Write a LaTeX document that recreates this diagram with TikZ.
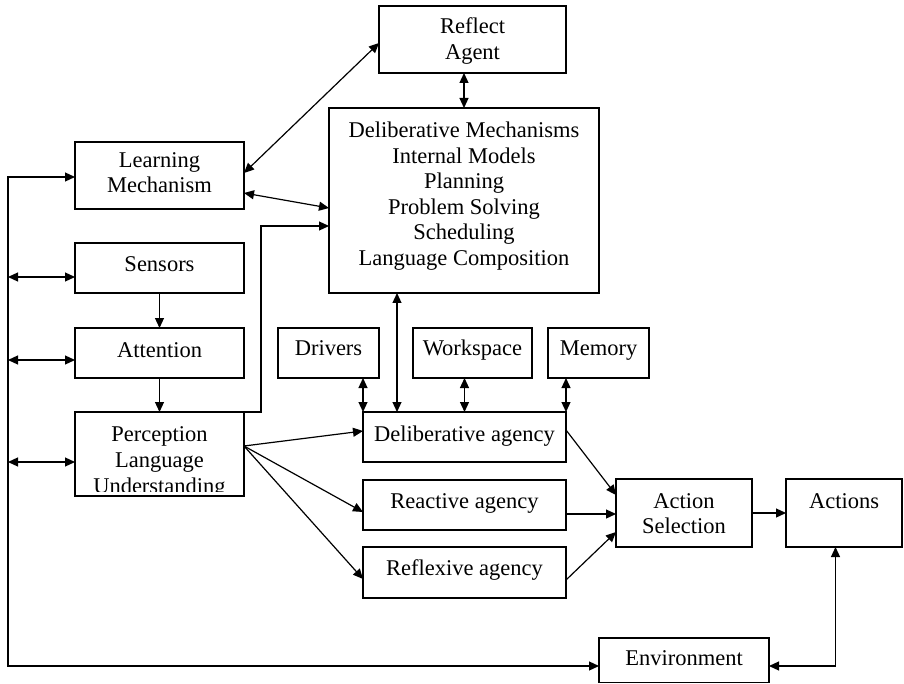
\documentclass[tikz,border=0pt]{standalone}
\usepackage{fontspec}
\setmainfont{Liberation Serif}
\usetikzlibrary{arrows.meta}
\newcommand\mybox[5]{\node[box, minimum width={(#4-#2)*1pt}, minimum height={(#5-#3)*1pt}] (#1) at ({(#2+#4)/2},{(#3+#5)/2}) {};}
\newcommand\txtline[4]{\node[lbl] (#1) at (#2,#3) {#4};}
\begin{document}
\begin{tikzpicture}[x=1pt,y=-1pt,
  box/.style={draw, line width=1.3pt, inner sep=0pt, outer sep=0pt},
  lbl/.style={anchor=base, inner sep=0pt, font=\fontsize{22.5}{26}\selectfont},
  tip/.tip={Triangle[length=10pt,width=9pt]},
  con/.style={line width=1.2pt, -tip},
  bicon/.style={line width=1.2pt, tip-tip}]
\useasboundingbox (0,0) rectangle (904,684);
% boxes
\mybox{reflect}{379}{6}{566}{73}
\mybox{delibmech}{329}{108}{599}{293}
\mybox{learn}{75}{142}{244}{209}
\mybox{sensors}{75}{243}{244}{293}
\mybox{attention}{75}{328}{244}{378}
\mybox{percep}{75}{412}{244}{496}
\mybox{drivers}{278}{328}{379}{378}
\mybox{workspace}{413}{328}{532}{378}
\mybox{memory}{548}{328}{649}{378}
\mybox{delagency}{363}{412}{566}{462}
\mybox{reactive}{363}{480}{566}{530}
\mybox{reflexive}{363}{547}{566}{598}
\mybox{actsel}{616}{479}{752}{547}
\mybox{actions}{786}{479}{902}{547}
\mybox{env}{599}{638}{769}{682.5}
% texts
\txtline{t1}{472.5}{34}{Reflect}
\txtline{t2}{472.5}{60}{Agent}
\txtline{t3}{464}{138}{Deliberative Mechanisms}
\txtline{t4}{464}{163.5}{Internal Models}
\txtline{t5}{464}{189}{Planning}
\txtline{t6}{464}{214.5}{Problem Solving}
\txtline{t7}{464}{240}{Scheduling}
\txtline{t8}{464}{265.5}{Language Composition}
\txtline{t9}{159.5}{168}{Learning}
\txtline{t10}{159.5}{193}{Mechanism}
\txtline{t11}{159.5}{272}{Sensors}
\txtline{t12}{159.5}{357}{Attention}
\txtline{t13}{159.5}{441}{Perception}
\txtline{t14}{159.5}{467}{Language}
\begin{scope}
\clip (76,413) rectangle (243,491.5);
\txtline{t15}{159.5}{493}{Understanding}
\end{scope}
\txtline{t16}{328.5}{355}{Drivers}
\txtline{t17}{472.5}{355}{Workspace}
\txtline{t18}{598.5}{355}{Memory}
\txtline{t19}{464.5}{441}{Deliberative agency}
\txtline{t20}{464.5}{508}{Reactive agency}
\txtline{t21}{464.5}{575}{Reflexive agency}
\txtline{t22}{684}{508}{Action}
\txtline{t23}{684}{533}{Selection}
\txtline{t24}{844}{508}{Actions}
\txtline{t25}{684}{665}{Environment}
% connectors
\draw[bicon] ([yshift=2.5pt]learn.east) -- ([yshift=-3.5pt]reflect.west);
\draw[bicon] ([yshift=-17.5pt]learn.east) -- ([yshift=-7.5pt]delibmech.west);
\draw[bicon] (delibmech.north |- reflect.south) -- (delibmech.north);
\draw[con] (percep.north east) -- ++(17,0) |- ([yshift=-25.5pt]delibmech.west);
\draw[con] (sensors.south) -- (attention.north);
\draw[con] (attention.south) -- (percep.north);
\coordinate (busTop) at (8,177);
\coordinate (busBot) at (8,666);
\draw[bicon] (busTop -| learn.west) -- (busTop) -- (busBot) -- (busBot -| env.west);
\draw[bicon] (busTop |- sensors.west) ++(0,9) -- ([yshift=-9pt]sensors.west);
\draw[bicon] (busTop |- attention.west) ++(0,7) -- ([yshift=-7pt]attention.west);
\draw[bicon] (busTop |- percep.west) ++(0,8) -- ([yshift=-8pt]percep.west);
\draw[bicon] (busBot -| env.east) -| ([xshift=-8.5pt]actions.south);
\draw[con] (actsel.east) -- (actions.west);
\draw[con] ([yshift=7pt]delagency.east) -- ([yshift=18pt]actsel.west);
\draw[con] ([yshift=-9pt]reactive.east) -- ([yshift=-1pt]actsel.west);
\draw[con] ([yshift=-7.5pt]reflexive.east) -- ([yshift=-19pt]actsel.west);
\draw[con] ([yshift=8pt]percep.east) -- ([yshift=6pt]delagency.west);
\draw[con] ([yshift=8pt]percep.east) -- ([yshift=-7pt]reactive.west);
\draw[con] ([yshift=8pt]percep.east) -- ([yshift=-6.5pt]reflexive.west);
\draw[bicon] (delagency.north west |- drivers.south) -- (delagency.north west);
\draw[bicon] ([xshift=-67.5pt]delagency.north) -- ([xshift=-67.5pt]delagency.north |- delibmech.south);
\draw[bicon] (delagency.north |- workspace.south) -- (delagency.north);
\draw[bicon] (delagency.north east |- memory.south) -- (delagency.north east);
\end{tikzpicture}
\end{document}
